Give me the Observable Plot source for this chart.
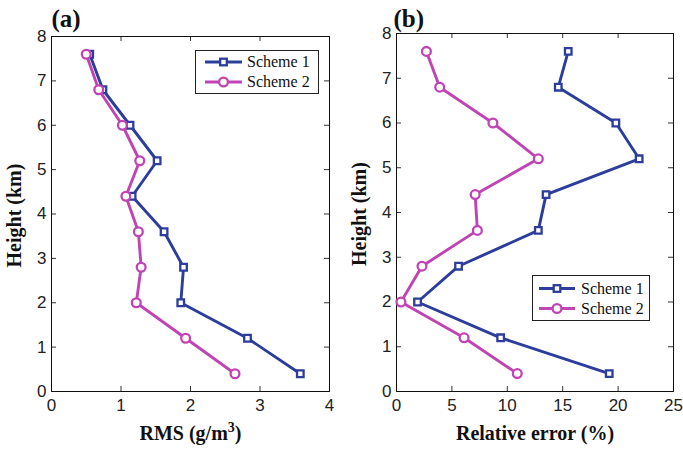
<!DOCTYPE html>
<html>
<head>
<meta charset="utf-8">
<script src="https://cdn.jsdelivr.net/npm/d3@7"></script>
<script src="https://cdn.jsdelivr.net/npm/@observablehq/plot@0.6"></script>
<style>
  html, body { margin: 0; padding: 0; background: #fff; }
  #wrap { position: relative; width: 683px; height: 449px; overflow: hidden; }
  .panel { position: absolute; top: 0; }
  .legend { position: absolute; background: #fff; border: 1px solid #222; box-sizing: border-box; }
  .legend svg { display: block; }
</style>
</head>
<body>
<div id="wrap"></div>
<script>
// ---- data ----
const heights    = [0.4, 1.2, 2.0, 2.8, 3.6, 4.4, 5.2, 6.0, 6.8, 7.6];
const rmsScheme1 = [3.58, 2.82, 1.86, 1.90, 1.62, 1.16, 1.52, 1.13, 0.74, 0.55];
const rmsScheme2 = [2.64, 1.93, 1.22, 1.29, 1.25, 1.07, 1.27, 1.02, 0.68, 0.50];
const relScheme1 = [19.2, 9.4, 1.9, 5.6, 12.8, 13.5, 21.9, 19.8, 14.6, 15.5];
const relScheme2 = [10.9, 6.1, 0.4, 2.3, 7.3, 7.1, 12.8, 8.7, 3.9, 2.7];
const xTicksA = [0, 1, 2, 3, 4];
const xTicksB = [0, 5, 10, 15, 20, 25];
const yTicks  = [0, 1, 2, 3, 4, 5, 6, 7, 8];
const seriesNames = ["Scheme 1", "Scheme 2"];

const BLUE = "#2c3d9b";
const MAG = "#c044b4";
const serif = "'Liberation Serif', 'Times New Roman', serif";
const sans = "'Liberation Sans', Arial, sans-serif";

function panel(opts) {
  const {v1, v2, xDomain, xTicks, xLabel, tag, width, mL, mR, mT, mB, tagDx, tagDy} = opts;
  const height = 449;
  const innerH = height - mT - mB;
  const innerW = width - mL - mR;
  const d1 = heights.map((h, i) => ({h, v: v1[i]}));
  const d2 = heights.map((h, i) => ({h, v: v2[i]}));
  const titleStyle = {fontFamily: serif, fontWeight: "bold", fontSize: 20, fill: "#111", lineAnchor: "middle", textAnchor: "middle"};
  return Plot.plot({
    width, height,
    marginLeft: mL, marginRight: mR, marginTop: mT, marginBottom: mB,
    style: {fontFamily: sans, fontSize: "17px", color: "#222", background: "white", overflow: "visible"},
    x: {domain: xDomain},
    y: {domain: [0, 8]},
    marks: [
      Plot.tickX(xTicks, {x: d => d, insetTop: innerH - 5, stroke: "#333", strokeWidth: 1}),
      Plot.tickX(xTicks, {x: d => d, insetBottom: innerH - 5, stroke: "#333", strokeWidth: 1}),
      Plot.tickY(yTicks, {y: d => d, insetRight: innerW - 5, stroke: "#333", strokeWidth: 1}),
      Plot.tickY(yTicks, {y: d => d, insetLeft: innerW - 5, stroke: "#333", strokeWidth: 1}),
      Plot.axisX({ticks: xTicks, tickSize: 0, tickPadding: 7, label: null, fontSize: 17, fontFamily: sans, tickFormat: d => String(d)}),
      Plot.axisY({ticks: yTicks, tickSize: 0, tickPadding: 5, label: null, fontSize: 17, fontFamily: sans, tickFormat: d => String(d)}),
      Plot.frame({stroke: "#111", strokeWidth: 1}),
      Plot.line(d1, {x: "v", y: "h", stroke: BLUE, strokeWidth: 2.9}),
      Plot.dot(d1, {x: "v", y: "h", symbol: "square", r: 3.7, stroke: BLUE, fill: "white", strokeWidth: 2.3}),
      Plot.line(d2, {x: "v", y: "h", stroke: MAG, strokeWidth: 2.9}),
      Plot.dot(d2, {x: "v", y: "h", symbol: "circle", r: 4.4, stroke: MAG, fill: "white", strokeWidth: 2.3}),
      Plot.text([xLabel], {frameAnchor: "bottom", dy: 42, ...titleStyle}),
      Plot.text(["Height (km)"], {frameAnchor: "left", rotate: -90, dx: -36.5, dy: 1.5, ...titleStyle}),
      Plot.text([tag], {frameAnchor: "top-left", dx: tagDx, dy: tagDy, ...titleStyle, textAnchor: "start", fontSize: 25})
    ]
  });
}

// render the ³ of a label as a real raised superscript
function superscriptify(svg) {
  svg.querySelectorAll("text").forEach(t => {
    const s = t.textContent;
    if (s.includes("³") && !t.querySelector("tspan")) {
      const [pre, post] = s.split("³");
      t.textContent = pre;
      const ns = "http://www.w3.org/2000/svg";
      const sup = document.createElementNS(ns, "tspan");
      sup.setAttribute("dy", "-8");
      sup.setAttribute("font-size", "14");
      sup.textContent = "3";
      const rest = document.createElementNS(ns, "tspan");
      rest.setAttribute("dy", "8");
      rest.textContent = post;
      t.appendChild(sup);
      t.appendChild(rest);
    }
  });
}

function legend(left, top, w, h, rowY, lineX0, lineX1, textX) {
  const div = document.createElement("div");
  div.className = "legend";
  div.style.left = left + "px";
  div.style.top = top + "px";
  div.style.width = w + "px";
  div.style.height = h + "px";
  const ns = "http://www.w3.org/2000/svg";
  const svg = document.createElementNS(ns, "svg");
  svg.setAttribute("width", w - 2);
  svg.setAttribute("height", h - 2);
  const colors = [BLUE, MAG];
  seriesNames.forEach((name, i) => {
    const y = rowY[i];
    const ln = document.createElementNS(ns, "line");
    ln.setAttribute("x1", lineX0); ln.setAttribute("x2", lineX1);
    ln.setAttribute("y1", y); ln.setAttribute("y2", y);
    ln.setAttribute("stroke", colors[i]); ln.setAttribute("stroke-width", 2.9);
    svg.appendChild(ln);
    const cx = (lineX0 + lineX1) / 2;
    let m;
    if (i === 0) {
      m = document.createElementNS(ns, "rect");
      m.setAttribute("x", cx - 3.3); m.setAttribute("y", y - 3.3);
      m.setAttribute("width", 6.6); m.setAttribute("height", 6.6);
    } else {
      m = document.createElementNS(ns, "circle");
      m.setAttribute("cx", cx); m.setAttribute("cy", y); m.setAttribute("r", 4.4);
    }
    m.setAttribute("fill", "white"); m.setAttribute("stroke", colors[i]); m.setAttribute("stroke-width", 2.3);
    svg.appendChild(m);
    const t = document.createElementNS(ns, "text");
    t.setAttribute("x", textX); t.setAttribute("y", y);
    t.setAttribute("dy", "0.34em");
    t.setAttribute("font-family", serif);
    t.setAttribute("font-size", "16");
    t.setAttribute("fill", "#111");
    t.textContent = name;
    svg.appendChild(t);
  });
  div.appendChild(svg);
  return div;
}

const wrap = document.getElementById("wrap");

const pa = panel({v1: rmsScheme1, v2: rmsScheme2, xDomain: [0, 4], xTicks: xTicksA,
  xLabel: "RMS (g/m³)", tag: "(a)", width: 341, mL: 51, mR: 12, mT: 36, mB: 58, tagDx: 0, tagDy: -18});
pa.classList.add("panel"); pa.style.left = "0px";
superscriptify(pa);
wrap.appendChild(pa);

const pb = panel({v1: relScheme1, v2: relScheme2, xDomain: [0, 25], xTicks: xTicksB,
  xLabel: "Relative error (%)", tag: "(b)", width: 342, mL: 55, mR: 10, mT: 33, mB: 58, tagDx: -3, tagDy: -15});
pb.classList.add("panel"); pb.style.left = "341px";
wrap.appendChild(pb);

wrap.appendChild(legend(195, 50, 124, 44, [11, 31], 9, 46, 51));
wrap.appendChild(legend(532, 275, 118, 46, [12.5, 32.5], 6, 42, 48));
</script>
</body>
</html>
